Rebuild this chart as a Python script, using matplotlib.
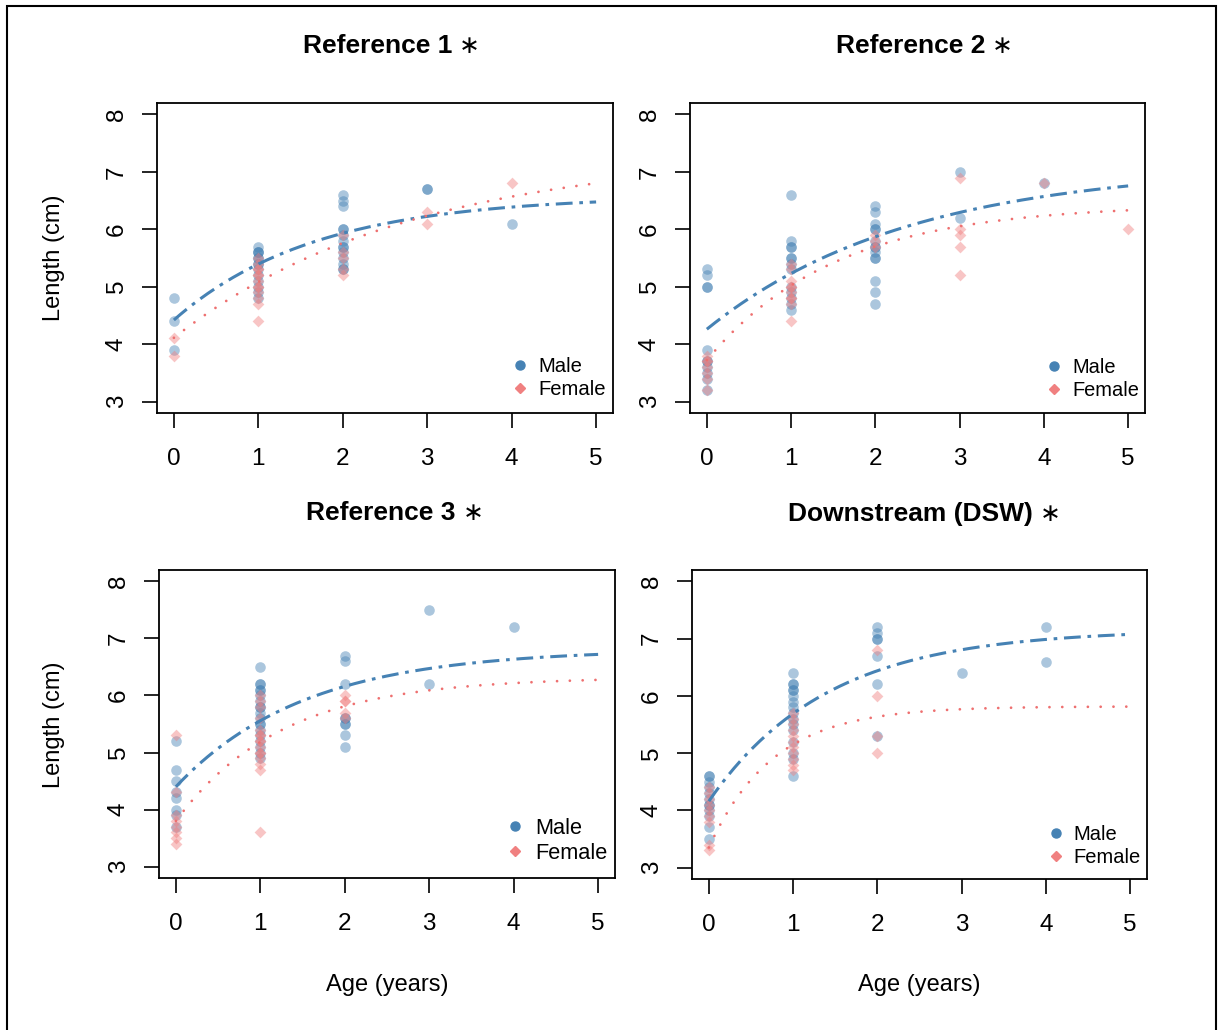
import numpy as np
import matplotlib
matplotlib.use("Agg")
import matplotlib.pyplot as plt
from matplotlib.lines import Line2D
from matplotlib.patches import Rectangle

plt.rcParams['font.family'] = ['Liberation Sans', 'DejaVu Sans']

W, H = 1219, 1030
titles = ["Reference 1", "Reference 2", "Reference 3", "Downstream (DSW)"]
xticks = [0, 1, 2, 3, 4, 5]
yticks = [3, 4, 5, 6, 7, 8]

# lengths (cm) by age (years)
r1_male = {0: [4.8, 4.4, 3.9],
           1: [5.7, 5.6, 5.6, 5.6, 5.5, 5.5, 5.4, 5.4, 5.3, 5.2, 5.1, 5.0, 4.9, 4.8],
           2: [6.6, 6.5, 6.4, 6.0, 6.0, 5.9, 5.8, 5.7, 5.7, 5.6, 5.5, 5.4, 5.3, 5.3],
           3: [6.7, 6.7],
           4: [6.1]}
r1_female = {0: [4.1, 3.8],
             1: [5.5, 5.4, 5.3, 5.3, 5.2, 5.2, 5.1, 5.0, 5.0, 4.9, 4.8, 4.7, 4.4],
             2: [5.9, 5.6, 5.5, 5.3, 5.2],
             3: [6.3, 6.1],
             4: [6.8]}
r2_male = {0: [5.3, 5.2, 5.0, 5.0, 3.9, 3.7, 3.7, 3.6, 3.5, 3.4, 3.2],
           1: [6.6, 5.8, 5.7, 5.7, 5.5, 5.5, 5.4, 5.3, 5.0, 4.9, 4.8, 4.7, 4.6],
           2: [6.4, 6.3, 6.1, 6.0, 6.0, 5.8, 5.7, 5.7, 5.6, 5.5, 5.5, 5.1, 4.9, 4.7],
           3: [7.0, 6.2],
           4: [6.8]}
r2_female = {0: [3.8, 3.7, 3.7, 3.6, 3.5, 3.4, 3.2],
             1: [5.4, 5.3, 5.1, 5.0, 5.0, 4.9, 4.8, 4.8, 4.7, 4.4],
             2: [5.9, 5.8, 5.7],
             3: [6.9, 6.0, 5.9, 5.7, 5.2],
             4: [6.8],
             5: [6.0]}
r3_male = {0: [5.2, 4.7, 4.5, 4.3, 4.2, 4.0, 3.9, 3.7],
           1: [6.5, 6.2, 6.2, 6.1, 6.1, 6.0, 5.9, 5.8, 5.8, 5.7, 5.6, 5.5, 5.5,
               5.4, 5.3, 5.2, 5.1, 5.0, 4.9],
           2: [6.7, 6.6, 6.2, 5.6, 5.6, 5.5, 5.5, 5.3, 5.1],
           3: [7.5, 6.2],
           4: [7.2]}
r3_female = {0: [5.3, 4.3, 3.9, 3.8, 3.7, 3.6, 3.5, 3.4],
             1: [6.0, 5.9, 5.8, 5.6, 5.4, 5.3, 5.3, 5.2, 5.2, 5.1, 5.0, 5.0,
                 4.9, 4.8, 4.7, 3.6],
             2: [6.0, 5.9, 5.9, 5.7, 5.6]}
dsw_male = {0: [4.6, 4.6, 4.5, 4.4, 4.3, 4.2, 4.1, 4.1, 4.0, 3.9, 3.7, 3.5],
            1: [6.4, 6.2, 6.2, 6.1, 6.1, 6.0, 5.9, 5.8, 5.7, 5.6, 5.5, 5.4,
                5.2, 5.0, 4.9, 4.6],
            2: [7.2, 7.1, 7.0, 7.0, 6.7, 6.2, 5.3],
            3: [6.4],
            4: [7.2, 6.6]}
dsw_female = {0: [4.4, 4.3, 4.2, 4.1, 4.0, 3.9, 3.8, 3.4, 3.3],
              1: [5.7, 5.6, 5.5, 5.4, 5.3, 5.2, 5.1, 5.0, 4.9, 4.8, 4.7],
              2: [6.8, 6.0, 5.3, 5.0]}

males = [r1_male, r2_male, r3_male, dsw_male]
females = [r1_female, r2_female, r3_female, dsw_female]

# von Bertalanffy fits: (Linf, K, L0)
male_fit = [(6.585, 0.598, 4.42), (7.112, 0.416, 4.26),
            (6.812, 0.654, 4.40), (7.16, 0.713, 4.16)]
female_fit = [(7.345, 0.357, 4.11), (6.434, 0.654, 3.72),
              (6.32, 0.799, 3.80), (5.816, 1.309, 3.35)]

# layout in pixels: axes box (left, top, right, bottom)
boxes = [(157, 103, 613, 413), (690, 103, 1145, 413),
         (159, 570, 615, 878), (692, 570, 1147, 879)]
title_pos = [(303, 53), (836, 53), (306, 520), (788, 521)]
leg_size = [14.6, 14.4, 15.7, 14.5]
leg_anchor = [(606, 399), (1139, 400), (607, 864), (1141, 867)]

blue = '#4682B4'
coral = '#F08080'

fig = plt.figure(figsize=(W / 100, H / 100), dpi=100)


def fx(px):
    return px / W


def fy(py):
    return 1 - py / H


tt = np.linspace(0, 5, 200)
for i in range(4):
    l, t, r, b = boxes[i]
    ax = fig.add_axes([fx(l), fy(b), fx(r) - fx(l), fy(t) - fy(b)])
    for a, v in males[i].items():
        ax.scatter([a] * len(v), v, s=58, marker='o', color=blue, alpha=0.45,
                   linewidths=0, zorder=2)
    for a, v in females[i].items():
        ax.scatter([a] * len(v), v, s=36, marker='D', color=coral, alpha=0.45,
                   linewidths=0, zorder=2)
    linf, k, l0 = male_fit[i]
    ax.plot(tt, linf - (linf - l0) * np.exp(-k * tt), color=blue, lw=2.2,
            ls=(0, (5.5, 2.2, 1.2, 2.2)), zorder=3)
    linf, k, l0 = female_fit[i]
    ax.plot(tt, linf - (linf - l0) * np.exp(-k * tt), color='#EE7070', lw=2.0,
            ls=(0, (0.01, 4.6)), dash_capstyle='round', zorder=3)

    ax.set_xlim(-0.2, 5.2)
    ax.set_ylim(2.8, 8.2)
    ax.set_xticks(xticks)
    ax.set_yticks(yticks)
    ax.tick_params(direction='out', length=11, width=1.2, labelsize=17.5)
    ax.tick_params(axis='x', pad=14)
    ax.tick_params(axis='y', pad=10, labelrotation=90)
    for lab in ax.get_yticklabels():
        lab.set_va('center')
    for s in ax.spines.values():
        s.set_linewidth(1.3)

    handles = [Line2D([], [], marker='o', ls='', color=blue, markersize=6.5),
               Line2D([], [], marker='D', ls='', color=coral, markersize=4.8)]
    ax_w = r - l
    ax_h = b - t
    ax_px, ay_px = leg_anchor[i]
    ax.legend(handles, ['Male', 'Female'], loc='lower right',
              bbox_to_anchor=((ax_px - l) / ax_w, (b - ay_px) / ax_h),
              frameon=False, fontsize=leg_size[i], borderpad=0,
              handlelength=0.8, handletextpad=0.5, labelspacing=0.2,
              borderaxespad=0)

    x0, y0 = title_pos[i]
    tx = fig.text(fx(x0), fy(y0), titles[i], fontsize=19, fontweight='bold',
                  ha='left', va='baseline')
    ax.annotate(' \u2217', xy=(1, 0), xycoords=tx, fontsize=18,
                ha='left', va='bottom')

fig.text(fx(54), fy(258), 'Length (cm)', rotation=90, fontsize=17,
         ha='center', va='center')
fig.text(fx(54), fy(725), 'Length (cm)', rotation=90, fontsize=17,
         ha='center', va='center')
fig.text(fx(387), fy(985), 'Age (years)', fontsize=17, ha='center', va='center')
fig.text(fx(919), fy(985), 'Age (years)', fontsize=17, ha='center', va='center')

fig.patches.append(Rectangle((fx(7), fy(1060)), fx(1216) - fx(7), fy(6) - fy(1060),
                             transform=fig.transFigure, fill=False, lw=1.5,
                             edgecolor='black', clip_on=True))

fig.savefig('out.png', dpi=100)
